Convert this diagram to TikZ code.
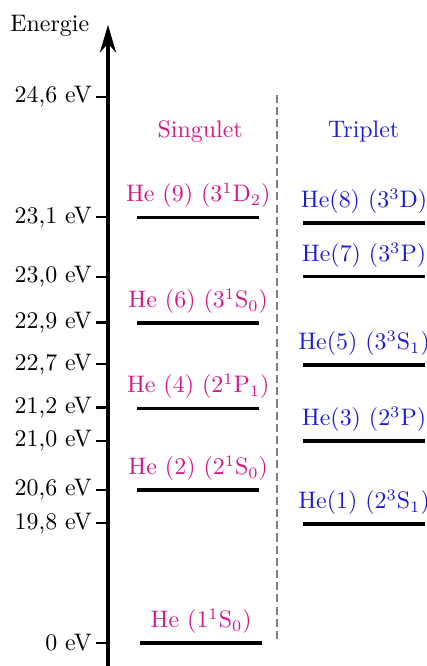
\documentclass[tikz,border=0pt]{standalone}
\usepackage{xcolor}
\definecolor{singText}{HTML}{D6168A}
\definecolor{tripText}{HTML}{1C1CD8}
\definecolor{sepGray} {HTML}{808080}
\usetikzlibrary{arrows.meta, positioning, calc}

\begin{document}
\begin{tikzpicture}[
    every node/.style={font=\fontsize{10.4}{12.5}\selectfont},
    lvl/.style={line width=1.45pt},
    slab/.style={singText, above},
    tlab/.style={tripText, above},
    ticklab/.style={left, inner sep=1.5pt},
    tickmark/.style={line width=0.9pt},
    energyax/.style={-{Stealth[length=12pt, width=7pt]}, line width=1.6pt},
    divider/.style={sepGray, line width=1pt, dash pattern=on 3.5pt off 1.8pt}
]
\useasboundingbox (-1.651,-0.352) rectangle (4.877,9.831);
% Energy axis
\coordinate (ax0) at (0,-0.45);
\coordinate (ax1) at (0,9.45);
\draw[energyax] (ax0) -- (ax1);
\node (elab) at (-0.89,9.43) {Energie};
% Ticks
\foreach \y/\v [count=\i] in {8.35/{24,6}, 6.51/{23,1}, 5.60/{23,0}, 4.90/{22,9},
        4.26/{22,7}, 3.60/{21,2}, 3.09/{21,0}, 2.34/{20,6}, 1.83/{19,8}, 0/0} {
    \coordinate (ta\i) at (0,\y);
    \coordinate (tb\i) at (-0.18,\y);
    \draw[tickmark] (ta\i) -- (tb\i) node[ticklab] (tl\i) {\v{} eV};
}
% Separator
\coordinate (d0) at (2.58,8.38);
\coordinate (d1) at (2.58,0);
\draw[divider] (d0) -- (d1);
% Headings
\node[singText] (sing) at (1.41,7.82) {Singulet};
\node[tripText] (trip) at (3.91,7.82) {Triplet};
% Singlet levels
\foreach \n/\y/\t in {s9/6.51/{He (9) (3$^1$D$_2$)}, s6/4.89/{He (6) (3$^1$S$_0$)},
        s4/3.59/{He (4) (2$^1$P$_1$)}, s2/2.34/{He (2) (2$^1$S$_0$)}} {
    \draw[lvl] (0.45,\y) coordinate (\n l) -- (2.31,\y) coordinate (\n r)
        node[slab, midway] (\n) {\t};
}
\draw[lvl] (0.49,0) coordinate (s1l) -- (2.36,0) coordinate (s1r)
    node[slab, midway] (s1) {He (1$^1$S$_0$)};
% Triplet levels
\foreach \n/\y/\t in {t8/6.42/{He(8) (3$^3$D)}, t7/5.60/{He(7) (3$^3$P)},
        t5/4.25/{He(5) (3$^3$S$_1$)}, t3/3.09/{He(3) (2$^3$P)},
        t1/1.82/{He(1) (2$^3$S$_1$)}} {
    \draw[lvl] (2.98,\y) coordinate (\n l) -- (4.85,\y) coordinate (\n r)
        node[tlab, midway] (\n) {\t};
}
\end{tikzpicture}
\end{document}
